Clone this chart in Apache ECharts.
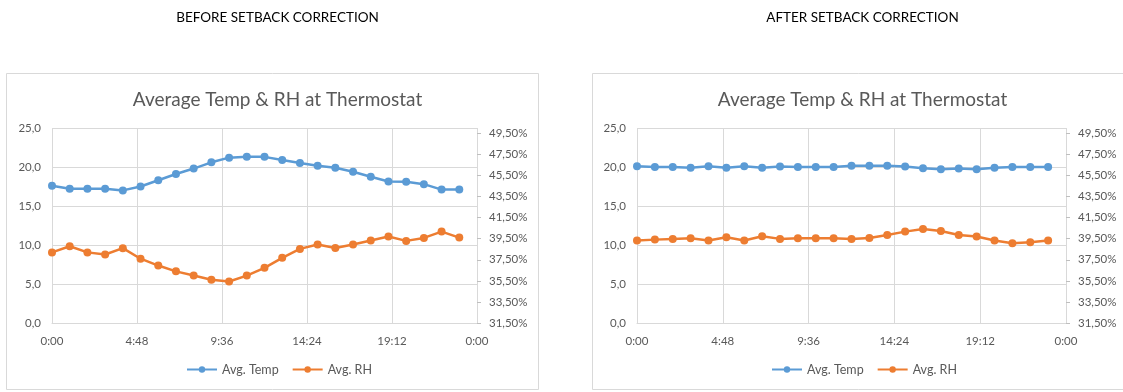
<!DOCTYPE html>
<html>
<head>
<meta charset="utf-8">
<script src="https://cdn.jsdelivr.net/npm/echarts@6/dist/echarts.min.js"></script>
<style>
html,body{margin:0;padding:0;background:#fff;}
#chart{width:1123px;height:392px;}
</style>
</head>
<body>
<div id="chart"></div>
<script>
// ---- data ----
const hours = [0,1,2,3,4,5,6,7,8,9,10,11,12,13,14,15,16,17,18,19,20,21,22,23];
const beforeTemp = [17.6,17.2,17.2,17.2,17.0,17.5,18.3,19.1,19.8,20.6,21.2,21.3,21.3,20.9,20.5,20.15,19.9,19.4,18.75,18.15,18.1,17.8,17.1,17.1];
const beforeRH = [38.2,38.78,38.2,38.0,38.6,37.6,36.95,36.4,36.0,35.6,35.44,36.0,36.73,37.68,38.53,38.94,38.62,38.94,39.32,39.7,39.29,39.57,40.17,39.6];
const afterTemp = [20.1,20.0,20.0,19.9,20.1,19.9,20.1,19.9,20.05,20.0,20.0,20.0,20.15,20.15,20.15,20.05,19.85,19.7,19.8,19.7,19.9,20.0,20.0,20.0];
const afterRH = [39.32,39.41,39.48,39.54,39.32,39.63,39.32,39.73,39.48,39.54,39.54,39.54,39.48,39.57,39.85,40.17,40.42,40.23,39.85,39.7,39.32,39.07,39.16,39.32];
const rhTicks = [31.5,33.5,35.5,37.5,39.5,41.5,43.5,45.5,47.5,49.5];
const headings = ['BEFORE SETBACK CORRECTION','AFTER SETBACK CORRECTION'];
const chartTitle = 'Average Temp & RH at Thermostat';
const seriesNames = ['Avg. Temp','Avg. RH'];

// ---- styling ----
const FONT = 'Lato';
const BLUE = '#5B9BD5', ORANGE = '#ED7D31', GRID = '#D9D9D9', TXT = '#595959';

function fmtTime(v){
  const total = Math.round(v*60);
  const h = Math.floor(total/60) % 24;
  const m = total % 60;
  return h + ':' + (m<10?'0':'') + m;
}
function pairs(arr){ return hours.map((h,i)=>[h,arr[i]]); }

const panels = [
  {cx:272.5, legendLeft:186, gridLeft:52, gridRight:1123-477, temp:beforeTemp, rh:beforeRH},
  {cx:857.5, legendLeft:771, gridLeft:637, gridRight:1123-1066, temp:afterTemp, rh:afterRH}
];

const option = {
  backgroundColor:'#fff',
  animation:false,
  title:[],
  legend:[],
  grid:[],
  xAxis:[],
  yAxis:[],
  series:[],
  graphic:[
    {type:'rect', shape:{x:6.5,y:73.5,width:532,height:316}, style:{fill:'none',stroke:GRID,lineWidth:1}, z:-1},
    {type:'rect', shape:{x:592.5,y:73.5,width:540,height:316}, style:{fill:'none',stroke:GRID,lineWidth:1}, z:-1}
  ]
};

panels.forEach((p,k)=>{
  option.title.push({text:headings[k], left:p.cx, top:6, textAlign:'center',
    textStyle:{fontFamily:FONT,fontSize:13.5,fontWeight:'normal',color:'#000'}});
  option.title.push({text:chartTitle, left:p.cx, top:85, textAlign:'center',
    textStyle:{fontFamily:FONT,fontSize:19,fontWeight:'normal',color:TXT}});
  option.legend.push({data:seriesNames, left:p.legendLeft, top:363,
    itemWidth:30, itemHeight:8, itemGap:13, padding:0,
    textStyle:{fontFamily:FONT,fontSize:12.5,color:TXT}});
  option.grid.push({left:p.gridLeft, right:p.gridRight, top:128, bottom:69, containLabel:false});
  option.xAxis.push({type:'value', gridIndex:k, min:0, max:24, interval:4.8,
    axisLine:{show:true,lineStyle:{color:GRID,width:1}},
    axisTick:{show:false},
    splitLine:{show:true,lineStyle:{color:GRID,width:1}},
    axisLabel:{formatter:fmtTime, margin:12, fontFamily:FONT, fontSize:11.5, color:TXT}});
  option.yAxis.push({type:'value', gridIndex:k, min:0, max:25, interval:5, position:'left',
    axisLine:{show:false}, axisTick:{show:false},
    splitLine:{show:true,lineStyle:{color:GRID,width:1}},
    axisLabel:{formatter:v=>v.toFixed(1).replace('.',','), margin:11, fontFamily:FONT, fontSize:11.5, color:TXT}});
  option.yAxis.push({type:'value', gridIndex:k, min:31.5, max:50, position:'right',
    axisLine:{show:false},
    axisTick:{show:true, customValues:rhTicks, length:4, lineStyle:{color:'#BFBFBF'}},
    splitLine:{show:false},
    axisLabel:{customValues:rhTicks, formatter:v=>v.toFixed(2).replace('.',',')+'%', margin:12, fontFamily:FONT, fontSize:11.5, color:TXT}});
  option.series.push({name:seriesNames[0], type:'line', xAxisIndex:k, yAxisIndex:2*k,
    data:pairs(p.temp), symbol:'circle', symbolSize:8, color:BLUE,
    lineStyle:{width:2.5,color:BLUE}, itemStyle:{color:BLUE}});
  option.series.push({name:seriesNames[1], type:'line', xAxisIndex:k, yAxisIndex:2*k+1,
    data:pairs(p.rh), symbol:'circle', symbolSize:8, color:ORANGE,
    lineStyle:{width:2.5,color:ORANGE}, itemStyle:{color:ORANGE}});
});

const chart = echarts.init(document.getElementById('chart'), null, {renderer:'canvas'});
chart.setOption(option);
</script>
</body>
</html>
